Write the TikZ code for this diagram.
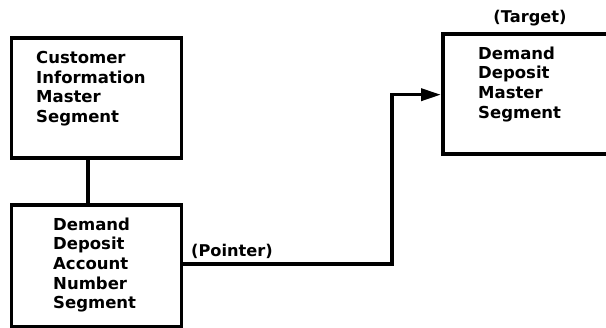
\documentclass[tikz,border=0pt]{standalone}
\usepackage{fontspec}
\setmainfont{DejaVu Sans}
\usetikzlibrary{arrows.meta}
\begin{document}
\begin{tikzpicture}[x=1pt,y=1pt,
  box/.style={draw=black,line width=3.6pt,inner sep=0pt},
  txt/.style={anchor=north west,inner sep=0pt,align=left,font=\bfseries\fontsize{16.5}{19.6}\selectfont},
  conn/.style={line width=3.6pt},
  lbl/.style={inner sep=0pt,font=\bfseries\fontsize{16.2}{19.6}\selectfont}]
\useasboundingbox (0,0) rectangle (606,328);
% boxes
\node[box,anchor=north west,minimum width=170pt,minimum height=120pt] (cim) at (9.5,292) {};
\node[box,anchor=north west,minimum width=170pt,minimum height=122pt] (dda) at (9.5,125) {};
\node[box,anchor=north west,minimum width=175pt,minimum height=120pt] (ddm) at (441,295.5) {};
% texts
\node[txt] (cimt) at (36,277) {Customer\\Information\\Master\\Segment};
\node[txt] (ddat) at (53,110.5) {Demand\\Deposit\\Account\\Number\\Segment};
\node[txt] (ddmt) at (478,281.5) {Demand\\Deposit\\Master\\Segment};
\node[lbl,anchor=base] (tgt) at (530,305.3) {(Target)};
\node[lbl,anchor=base west] (ptr) at (191,71.5) {(Pointer)};
% connectors
\draw[conn] (cim.south -| 88,0) -- (dda.north -| 88,0);
\coordinate (bend) at (392,233.3);
\draw[conn,-{Triangle[length=20pt,width=12pt]}] (dda.east |- 0,64) -| (bend) -- (ddm.west |- bend);
\end{tikzpicture}
\end{document}
